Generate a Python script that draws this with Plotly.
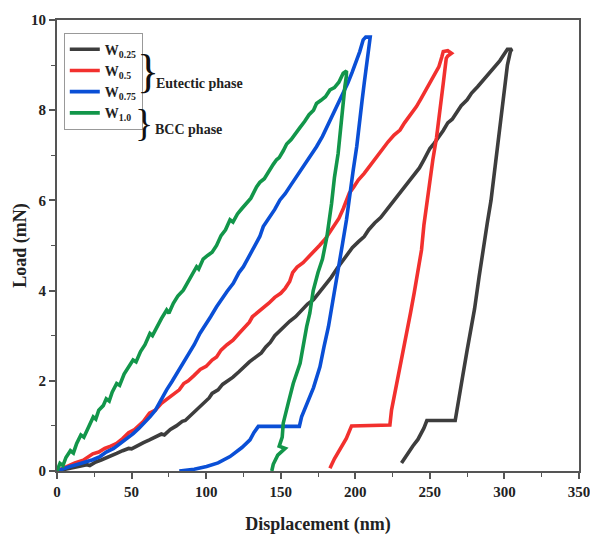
import plotly.graph_objects as go

# Nanoindentation load–displacement curves (loading + unloading) for four W contents
w025_disp = [0, 5, 10, 15, 20, 22, 26, 30, 34, 38, 40, 44, 48, 50, 54, 58, 62, 66, 70, 72, 76, 80, 84, 86, 90, 94, 96,
             100, 102, 104, 108, 111, 115, 118, 122, 126, 129, 133, 137, 140, 143, 146, 150, 153, 156, 160, 164, 168,
             172, 175, 178, 181, 184, 188, 192, 195, 198, 202, 206, 209, 213, 217, 220, 224, 228, 232, 236, 240, 243,
             246, 250, 253, 256, 259, 262, 265, 268, 271, 275, 278, 282, 286, 289, 293, 297, 300, 302, 305,
             304, 302, 300.5, 298.5, 296.5, 294, 291, 288.5, 285.5, 283, 280, 277, 275, 272, 269.5, 268, 267, 258, 248,
             246, 242, 238.5, 235, 231]
w025_load = [0, 0.03, 0.07, 0.1, 0.14, 0.12, 0.2, 0.25, 0.3, 0.36, 0.39, 0.45, 0.5, 0.49, 0.57, 0.63, 0.69, 0.76, 0.82,
             0.8, 0.92, 1.0, 1.1, 1.12, 1.25, 1.38, 1.43, 1.56, 1.62, 1.72, 1.8, 1.92, 2.0, 2.08, 2.2, 2.33, 2.42, 2.52,
             2.62, 2.75, 2.85, 3.0, 3.13, 3.2, 3.32, 3.42, 3.55, 3.7, 3.8, 3.92, 4.05, 4.16, 4.3, 4.5, 4.68, 4.8, 4.95,
             5.08, 5.2, 5.35, 5.5, 5.62, 5.75, 5.92, 6.08, 6.25, 6.42, 6.62, 6.72, 6.9, 7.15, 7.27, 7.4, 7.55, 7.72,
             7.8, 7.95, 8.1, 8.23, 8.38, 8.52, 8.67, 8.8, 8.95, 9.1, 9.25, 9.35, 9.35,
             9.3, 9.0, 8.6, 8.1, 7.5, 6.8, 6.0, 5.5, 4.9, 4.3, 3.6, 3.1, 2.68, 2.1, 1.57, 1.3, 1.12, 1.12, 1.12,
             0.95, 0.7, 0.55, 0.38, 0.18]

w05_disp = [0, 4, 8, 12, 17.6, 20, 24, 28, 32, 36, 40, 44, 48, 52, 55, 58, 62, 66, 70, 74, 78, 82, 85, 88, 92, 96,
            100, 104, 107, 110, 114, 118, 122, 125, 129, 131, 134, 138, 142, 146, 150, 153, 156, 158, 161, 165, 168,
            172, 176, 180, 183, 186, 189, 192, 196, 199, 202, 206, 210, 214, 218, 222, 226, 230, 233, 237, 241, 244,
            247, 250, 253, 256, 258, 259, 262, 264.5, 262,
            261, 259, 257, 254.5, 252, 248, 246, 244.4, 242, 239.5, 237, 234.4, 231, 228, 225.5, 224.3, 223.2, 210,
            197.5, 194, 190, 186, 183]
w05_load = [0, 0.06, 0.12, 0.18, 0.24, 0.3, 0.38, 0.42, 0.5, 0.55, 0.61, 0.72, 0.85, 0.92, 1.02, 1.1, 1.28, 1.35, 1.5,
            1.6, 1.68, 1.8, 1.94, 2.0, 2.12, 2.25, 2.32, 2.46, 2.53, 2.68, 2.8, 2.9, 3.05, 3.15, 3.3, 3.42, 3.5, 3.62,
            3.72, 3.85, 3.94, 4.05, 4.2, 4.4, 4.52, 4.62, 4.72, 4.85, 5.0, 5.15, 5.3, 5.45, 5.6, 5.82, 6.16, 6.3, 6.45,
            6.6, 6.78, 6.95, 7.12, 7.3, 7.45, 7.56, 7.72, 7.9, 8.08, 8.25, 8.42, 8.6, 8.78, 8.96, 9.18, 9.3, 9.32,
            9.26, 9.2,
            9.15, 8.6, 8.0, 7.4, 6.9, 6.0, 5.45, 4.9, 4.4, 3.95, 3.5, 3.05, 2.45, 1.95, 1.6, 1.35, 1.02, 1.0,
            1.0, 0.72, 0.5, 0.27, 0.06]

w075_disp = [0, 4, 8.7, 14, 20, 24, 28.8, 33, 38, 42, 46, 51.1, 55, 58, 62.3, 66, 70, 73.5, 77, 81, 84.7, 88, 92,
             95.8, 99, 103, 107, 111, 114, 118.2, 122, 125, 129.4, 133, 136, 138.3, 142, 146, 149.5, 153, 157, 161,
             165, 169, 174, 178, 182, 186, 189, 192, 195, 198, 201, 203, 205.3, 207, 210,
             209.8, 208.5, 207.6, 206, 204.5, 203.1, 201, 198.6, 196.5, 194.1, 191.5, 189.7, 187.5, 185.2, 182, 179,
             176.3, 172, 169, 167.4, 164, 162.5, 150, 135, 132, 129.4, 124, 116, 108, 100.3, 92, 82]
w075_load = [0, 0.05, 0.1, 0.15, 0.2, 0.25, 0.32, 0.42, 0.5, 0.6, 0.7, 0.83, 0.95, 1.05, 1.2, 1.35, 1.6, 1.8, 1.98,
             2.2, 2.39, 2.58, 2.8, 3.05, 3.2, 3.42, 3.64, 3.85, 3.98, 4.16, 4.4, 4.53, 4.8, 5.0, 5.2, 5.42, 5.6, 5.8,
             6.01, 6.15, 6.35, 6.55, 6.75, 6.92, 7.19, 7.42, 7.7, 7.95, 8.15, 8.37, 8.6, 8.85, 9.1, 9.3, 9.56, 9.62,
             9.62,
             9.56, 9.3, 9.04, 8.6, 8.2, 7.78, 7.2, 6.67, 6.1, 5.57, 5.05, 4.7, 4.25, 3.79, 3.2, 2.75, 2.31, 1.85,
             1.6, 1.43, 1.2, 0.99, 0.99, 0.99, 0.85, 0.69, 0.52, 0.32, 0.18, 0.1, 0.04, 0.0]

w10_disp = [0, 1, 2, 4, 6, 9, 11, 13.2, 16, 18, 21, 24.3, 26, 28, 31, 33, 35, 37, 40, 42, 45, 48, 51, 53, 56, 59,
            62.3, 64, 67, 70, 73.5, 75, 78, 81, 84.7, 87, 90, 93.6, 95, 98, 101, 104, 107, 110, 113, 116, 118, 121,
            124, 127, 130, 133.8, 136, 139, 142, 145, 147.2, 149, 151.7, 154, 157, 160, 163, 166, 169, 172, 174, 177,
            180, 183, 186, 189, 191.9, 194.1,
            194, 193, 191, 188.5, 186, 184.1, 181, 178, 175, 171.8, 169.5, 167.4, 163, 160, 158.4, 155, 151.7, 151,
            149, 153, 148, 145, 144]
w10_load = [0, 0.1, 0.17, 0.12, 0.3, 0.45, 0.4, 0.61, 0.8, 0.75, 0.95, 1.2, 1.15, 1.35, 1.45, 1.6, 1.55, 1.75, 1.94,
            1.9, 2.15, 2.3, 2.46, 2.42, 2.65, 2.8, 3.05, 3.0, 3.2, 3.38, 3.57, 3.5, 3.72, 3.88, 4.01, 4.15, 4.3, 4.53,
            4.48, 4.7, 4.78, 4.85, 5.0, 5.22, 5.35, 5.57, 5.52, 5.7, 5.82, 5.95, 6.05, 6.3, 6.4, 6.48, 6.65, 6.8,
            6.9, 6.95, 7.1, 7.25, 7.35, 7.5, 7.62, 7.75, 7.9, 8.0, 8.15, 8.22, 8.3, 8.45, 8.5, 8.62, 8.82, 8.87,
            8.75, 8.52, 7.9, 7.04, 6.5, 5.93, 5.2, 4.7, 4.4, 4.0, 3.5, 3.2, 2.39, 2.1, 1.94, 1.5, 1.06, 0.75,
            0.55, 0.5, 0.35, 0.15, 0.0]

series_names = ["W<sub>0.25</sub>", "W<sub>0.5</sub>", "W<sub>0.75</sub>", "W<sub>1.0</sub>"]
series_colors = ["#3d3d3d", "#f2302e", "#0a4fd6", "#12964a"]
series_data = [(w025_disp, w025_load), (w05_disp, w05_load), (w075_disp, w075_load), (w10_disp, w10_load)]

x_ticks = [0, 50, 100, 150, 200, 250, 300, 350]
y_ticks = [0, 2, 4, 6, 8, 10]

serif = "Liberation Serif, Times New Roman, serif"

fig = go.Figure()
for name, color, (xs, ys) in zip(series_names, series_colors, series_data):
    fig.add_trace(go.Scatter(x=xs, y=ys, mode="lines", name=name,
                             line=dict(color=color, width=3.6)))

axis_common = dict(showline=True, linecolor="#555555", linewidth=2, mirror=True,
                   ticks="outside", ticklen=6, tickwidth=1.5, tickcolor="#555555",
                   showgrid=False, zeroline=False, automargin=False, ticklabeloverflow="allow",
                   tickfont=dict(family=serif, size=15, color="#222222", weight="bold"))

fig.update_xaxes(range=[0, 350], tickvals=x_ticks,
                 minor=dict(ticks="outside", ticklen=4, tickwidth=1.2, tickcolor="#555555", dtick=25),
                 title=dict(text="Displacement (nm)", standoff=18,
                            font=dict(family=serif, size=18, color="#222222", weight="bold")),
                 **axis_common)
fig.update_yaxes(range=[0, 10], tickvals=y_ticks,
                 minor=dict(ticks="outside", ticklen=4, tickwidth=1.2, tickcolor="#555555", dtick=1),
                 title=dict(text="Load (mN)", standoff=0,
                            font=dict(family=serif, size=18, color="#222222", weight="bold")),
                 **axis_common)

# Phase grouping braces beside the legend
fig.add_annotation(xref="paper", yref="paper", x=0.149, y=0.947, text="}", showarrow=False,
                   font=dict(family=serif, size=46, color="#111111"))
fig.add_annotation(xref="paper", yref="paper", x=0.146, y=0.822, text="}", showarrow=False,
                   font=dict(family=serif, size=38, color="#111111"))
fig.add_annotation(xref="paper", yref="paper", x=0.186, y=0.881, text="Eutectic phase", showarrow=False,
                   xanchor="left", font=dict(family=serif, size=14, color="#222222", weight="bold"))
fig.add_annotation(xref="paper", yref="paper", x=0.184, y=0.779, text="BCC phase", showarrow=False,
                   xanchor="left", font=dict(family=serif, size=14, color="#222222", weight="bold"))

fig.update_layout(
    width=590, height=535,
    margin=dict(l=57, r=11, t=20, b=64),
    paper_bgcolor="white", plot_bgcolor="white",
    showlegend=True,
    legend=dict(x=0.013, y=0.972, xanchor="left", yanchor="top",
                bordercolor="#999999", borderwidth=1, bgcolor="rgba(255,255,255,0)",
                itemwidth=30, tracegroupgap=0,
                font=dict(family=serif, size=14, color="#222222", weight="bold")),
)

fig.write_html("out.html")
